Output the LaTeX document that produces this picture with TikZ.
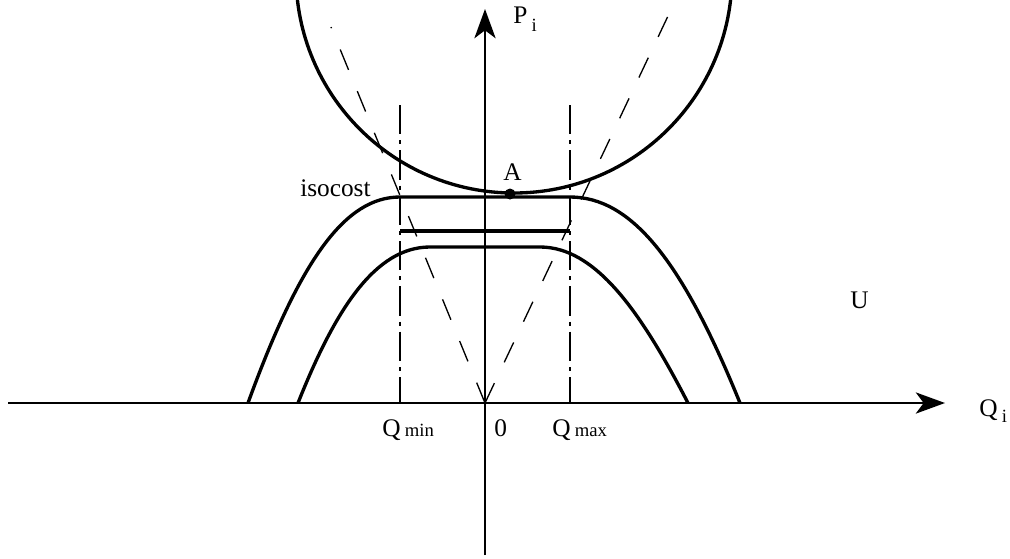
\documentclass[tikz,border=0pt]{standalone}
\usepackage{fontspec}
\setmainfont{Liberation Serif}
\usetikzlibrary{arrows.meta}
\begin{document}
\begin{tikzpicture}[x=0.75pt,y=-0.75pt,
  axis/.style={line width=1.1pt},
  axisarrow/.style={-{Stealth[length=22pt,width=16pt,inset=6pt]}},
  curve/.style={line width=2.5pt},
  ray/.style={line width=1pt, dash pattern=on 16.5pt off 17.25pt},
  limit/.style={line width=1pt, dash pattern=on 22pt off 4.5pt on 3pt off 4.5pt},
  lbl/.style={inner sep=0pt, anchor=base west, font=\fontsize{19}{22}\selectfont},
  sub/.style={font=\fontsize{14}{16}\selectfont}]
\useasboundingbox (0,0) rectangle (1010,558);
% coordinates
\coordinate (O) at (485,403);
\coordinate (xs) at (8,403);
\coordinate (xe) at (945,403);
\coordinate (ys) at (485,555);
\coordinate (ye) at (485,9);
\coordinate (C) at (514,-25);
\coordinate (rl) at (331,27);
\coordinate (rr) at (668,16);
\coordinate (minT) at (400,105);
\coordinate (minB) at (400,403);
\coordinate (maxT) at (570,105);
\coordinate (maxB) at (570,403);
% circle
\begin{scope}
\clip (0,0) rectangle (1010,558);
\draw[curve] (C) circle[radius=218*0.75pt];
\end{scope}
% axes
\draw[axis,axisarrow] (xs) -- (xe);
\draw[axis,axisarrow] (ys) -- (ye);
% rays from origin
\draw[ray] (O) -- (rl);
\draw[ray] (O) -- (rr);
% limits
\draw[limit] (minT) -- (minB);
\draw[limit] (maxT) -- (maxB);
% isocost curves
\draw[curve] (248,403) .. controls (300,260) and (345,197) .. (400,197)
  -- (570,197) .. controls (631,197) and (682,260) .. (740,403);
\draw[curve] (400,231) -- (570,231);
\draw[curve] (298,403) .. controls (335,310) and (375,247) .. (430,247)
  -- (540,247) .. controls (595,247) and (640,310) .. (688,403);
% point A
\fill (510,194) circle[radius=5.5*0.75pt];
% labels
\node[lbl] (Plab) at (513,23) {P\,\raisebox{-6pt}{\fontsize{14}{16}\selectfont i}};
\node[lbl] (Qlab) at (979,416) {Q\,\raisebox{-4.5pt}{\fontsize{14}{16}\selectfont i}};
\node[lbl] (Alab) at (503,180) {A};
\node[lbl] (iso) at (300,196) {isocost};
\node[lbl] (U) at (850,308) {U};
\node[lbl] (qmin) at (382,436) {Q\,{\fontsize{14}{16}\selectfont min}};
\node[lbl] (zero) at (494,436) {0};
\node[lbl] (qmax) at (552,436) {Q\,{\fontsize{14}{16}\selectfont max}};
\end{tikzpicture}
\end{document}
